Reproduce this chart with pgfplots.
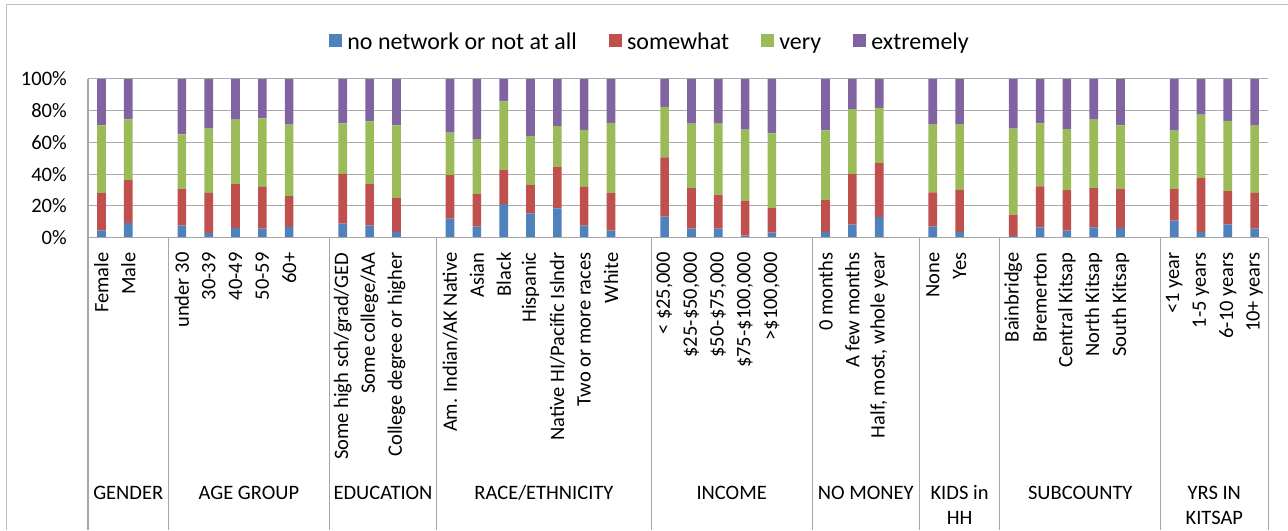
\documentclass[border=0pt]{standalone}
\usepackage{fontspec}
\setmainfont{Carlito}
\usepackage{pgfplots}
\pgfplotsset{compat=1.18}
\usepackage{pgfplotstable}

\definecolor{cA}{HTML}{4F81BD}
\definecolor{cB}{HTML}{C0504D}
\definecolor{cC}{HTML}{9BBB59}
\definecolor{cD}{HTML}{8064A2}
\definecolor{gridc}{HTML}{ABABAB}
\definecolor{sepc}{HTML}{A6A6A6}
\definecolor{framec}{HTML}{BFBFBF}

% x = slot index (empty slots between groups), a..d = shares in %
\pgfplotstableread{
x  a    b    c    d
0  4.6  23.4 42.7 29.3
1  9.2  27.0 38.3 25.5
3  7.5  23.0 34.6 34.9
4  2.9  25.3 40.4 31.4
5  5.9  27.8 40.6 25.7
6  5.6  26.4 43.1 24.9
7  6.7  19.5 44.9 28.9
9  8.8  31.4 31.8 28.0
10 7.5  26.2 39.5 26.8
11 3.6  21.3 45.8 29.3
13 11.9 27.4 26.8 33.9
14 6.9  20.5 34.7 37.9
15 21.1 21.4 43.3 14.2
16 15.3 17.8 30.9 36.0
17 18.4 26.0 25.9 29.7
18 7.5  24.5 35.8 32.2
19 4.4  23.6 44.2 27.8
21 13.2 37.4 31.8 17.6
22 5.6  25.6 40.6 28.2
23 5.6  21.4 44.8 28.2
24 1.3  21.7 45.0 32.0
25 3.1  15.5 47.1 34.3
27 3.6  20.0 44.0 32.4
28 8.2  31.8 41.0 19.0
29 13.0 33.9 34.9 18.2
31 6.9  21.6 42.6 28.9
32 3.6  26.5 41.0 28.9
34 1.0  13.4 54.2 31.4
35 6.5  25.7 39.8 28.0
36 4.4  25.5 38.5 31.6
37 6.5  24.7 43.1 25.7
38 6.1  24.4 40.2 29.3
40 10.7 19.8 36.9 32.6
41 3.6  33.8 40.0 22.6
42 8.4  20.9 44.3 26.4
43 5.6  22.6 42.3 29.5
}\data

\newcommand{\lblfont}{\fontsize{15.4}{18}\selectfont}

\begin{document}
\begin{tikzpicture}
\begin{axis}[
  scale only axis, width=886.5pt, height=119.25pt,
  at={(64.5pt,-178.5pt)}, anchor=south west,
  ybar stacked, bar width=6.5pt,
  xmin=-0.5, xmax=43.5, ymin=0, ymax=100,
  axis line style={draw=none},
  ymajorgrids, grid style={gridc, line width=0.8pt},
  ytick={0,20,40,60,80,100},
  yticklabels={0\%,20\%,40\%,60\%,80\%,100\%},
  xtick={0,1,3,4,5,6,7,9,10,11,13,14,15,16,17,18,19,21,22,23,24,25,27,28,29,31,32,34,35,36,37,38,40,41,42,43},
  xticklabels={Female,Male,under 30,30-39,40-49,50-59,60+,
    Some high sch/grad/GED,Some college/AA,College degree or higher,
    Am. Indian/AK Native,Asian,Black,Hispanic,Native HI/Pacific Islndr,Two or more races,White,
    {< \$25,000},{\$25-\$50,000},{\$50-\$75,000},{\$75-\$100,000},{>\$100,000},
    0 months,A few months,{Half, most, whole year},
    None,Yes,
    Bainbridge,Bremerton,Central Kitsap,North Kitsap,South Kitsap,
    <1 year,1-5 years,6-10 years,10+ years},
  major tick length=0pt,
  tick label style={font=\lblfont},
  yticklabel style={anchor=east, inner xsep=15.75pt, inner ysep=0pt},
  xticklabel style={rotate=90, anchor=east, inner xsep=11pt, inner ysep=0pt},
  legend style={at={(0.4776,1.220)}, anchor=center, draw=none, fill=none,
    font=\fontsize{18}{21}\selectfont,
    /tikz/every even column/.append style={column sep=20pt},
    nodes={inner xsep=4pt, inner ysep=0pt, text height=9.5pt, text depth=3.5pt}},
  legend columns=4,
  legend image code/.code={\fill[#1] (0pt,-1.625pt) rectangle (9.75pt,8.125pt);},
]
\addplot[fill=cA, draw=none] table[x=x, y=a] {\data};
\addplot[fill=cB, draw=none] table[x=x, y=b] {\data};
\addplot[fill=cC, draw=none] table[x=x, y=c] {\data};
\addplot[fill=cD, draw=none] table[x=x, y=d] {\data};
\legend{no network or not at all, somewhat, very, extremely}
\end{axis}

\begin{scope}[x=0.75pt, y=-0.75pt]
  \useasboundingbox (0,0) rectangle (1288,531);
  \draw[framec, line width=1.1pt] (4.5,531) -- (4.5,4.5) -- (1288,4.5);
  \draw[sepc, line width=0.8pt] (86,238) -- (1268,238);
  \draw[sepc, line width=0.8pt] (86,79) -- (86,531);
  \foreach \k in {3,9,13,21,27,31,34,40,44}
    \draw[sepc, line width=0.8pt] ({86+26.8636*\k},238) -- ({86+26.8636*\k},531);
  \begin{scope}[every node/.style={anchor=base, font=\lblfont, inner sep=0pt}]
    \node at (126.3,500.7) {GENDER};
    \node at (247.2,500.7) {AGE GROUP};
    \node at (381.5,500.7) {EDUCATION};
    \node at (542.7,500.7) {RACE/ETHNICITY};
    \node at (730.7,500.7) {INCOME};
    \node at (865.0,500.7) {NO MONEY};
    \node at (959.0,500.7) {KIDS in};
    \node at (959.0,525.0) {HH};
    \node at (1079.9,500.7) {SUBCOUNTY};
    \node at (1214.2,500.7) {YRS IN};
    \node at (1214.2,525.0) {KITSAP};
  \end{scope}
\end{scope}
\end{tikzpicture}
\end{document}
